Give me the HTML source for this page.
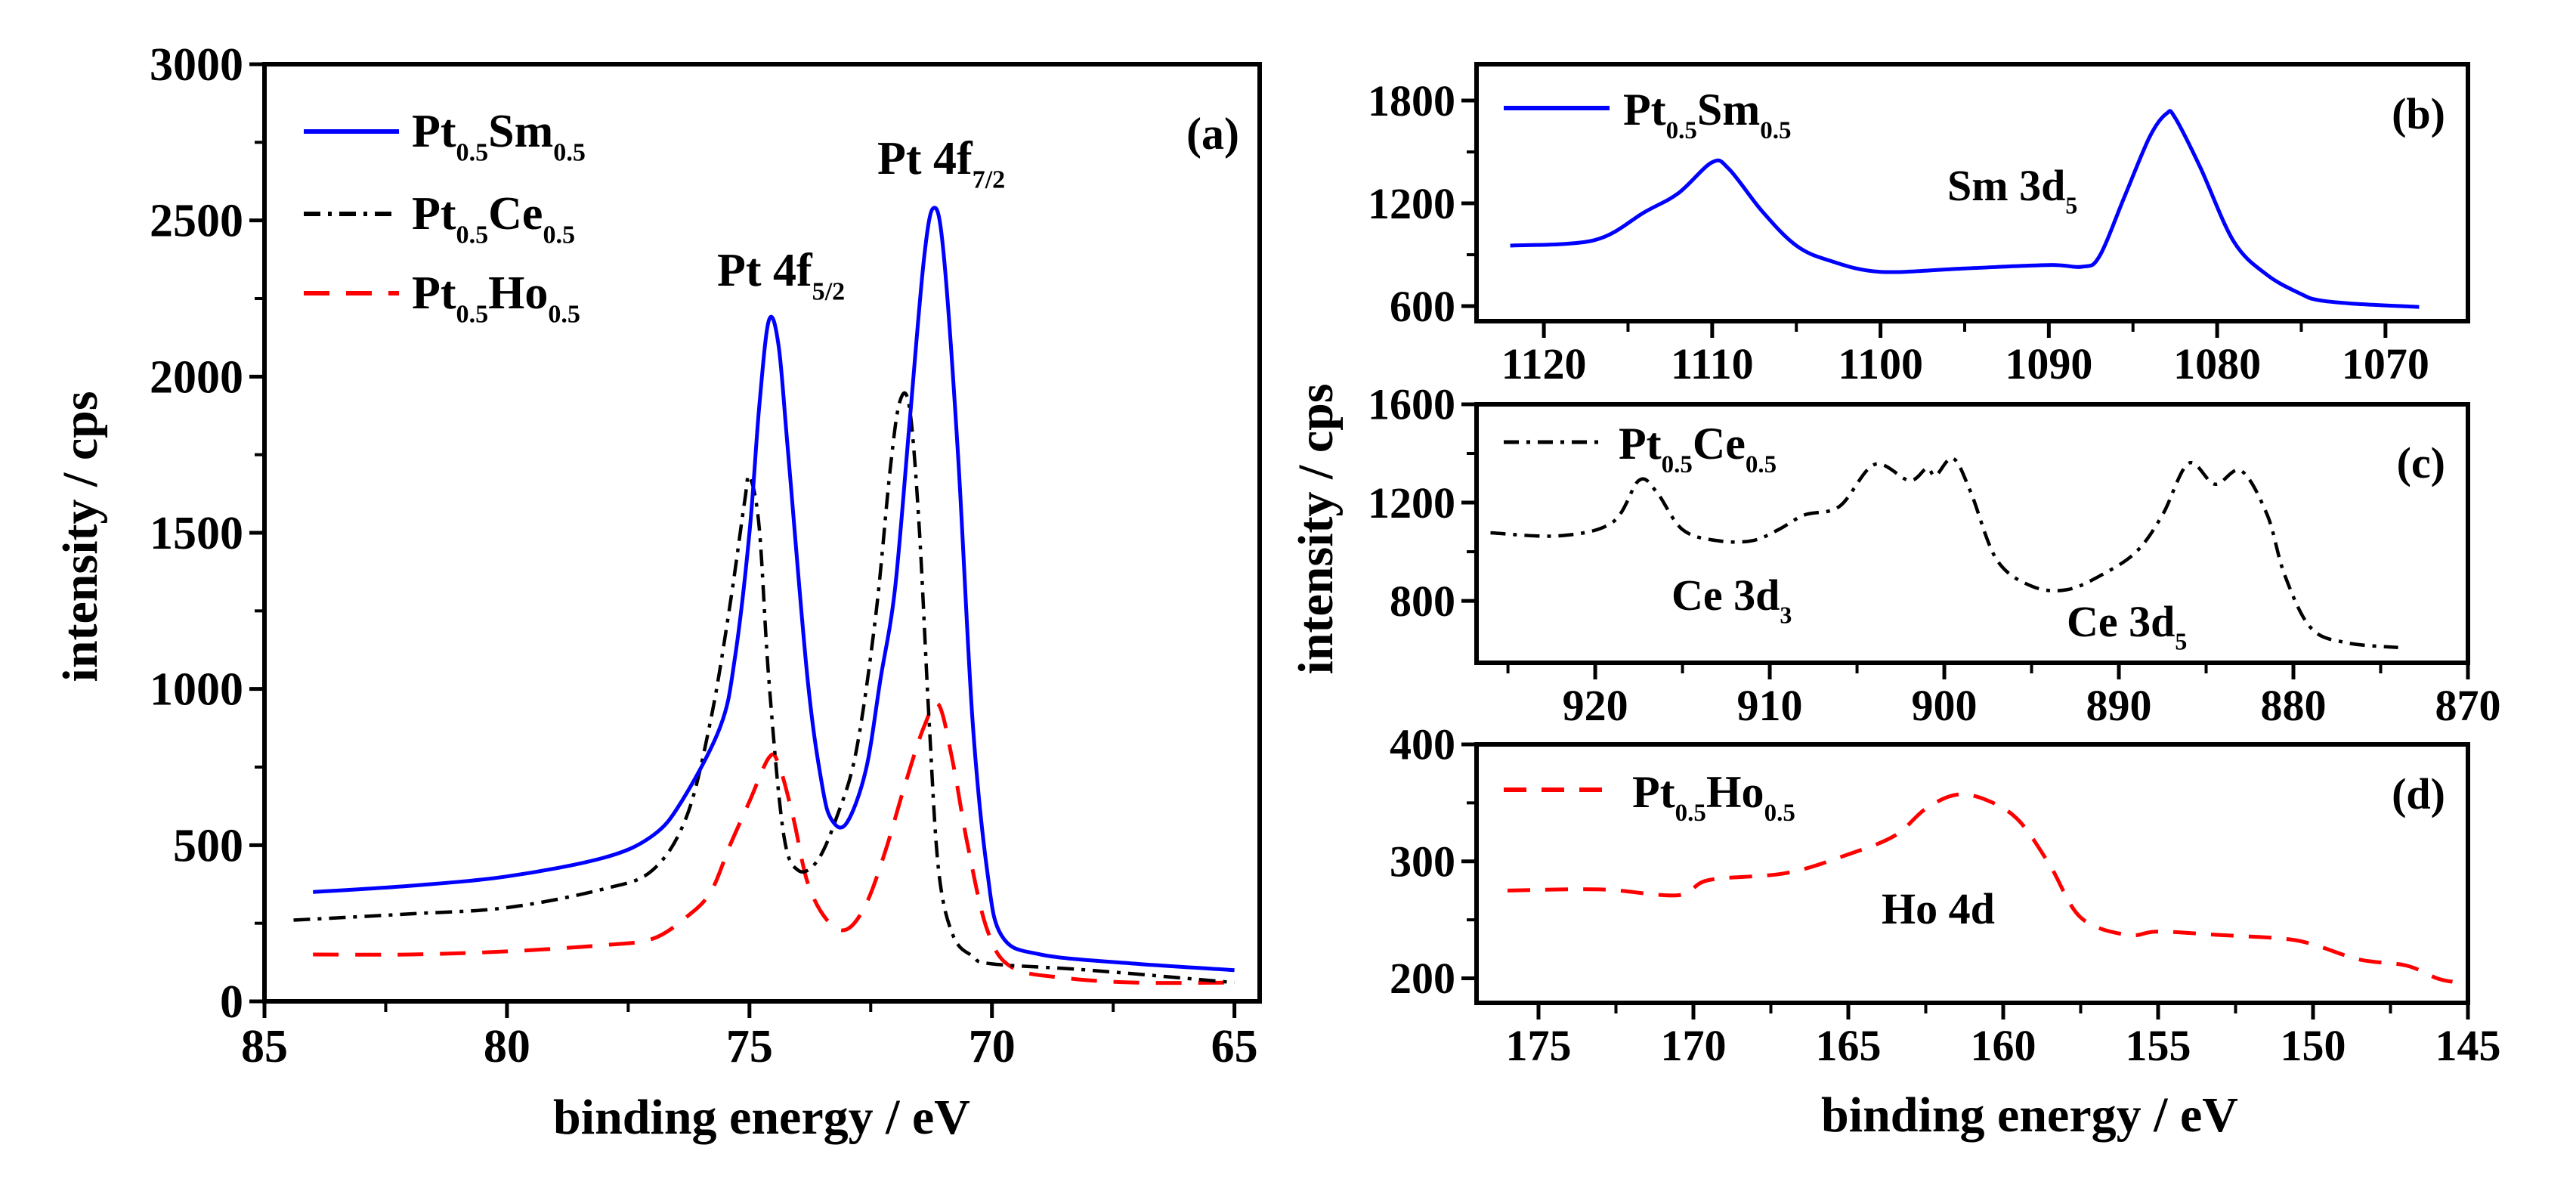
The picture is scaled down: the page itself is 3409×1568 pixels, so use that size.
<!DOCTYPE html>
<html><head><meta charset="utf-8"><style>
html,body{margin:0;padding:0;background:#fff;}
svg{display:block;font-family:"Liberation Serif",serif;font-weight:bold;}
</style></head><body>
<svg id="chart" width="3409" height="1568" viewBox="0 0 3409 1568" xmlns="http://www.w3.org/2000/svg"></svg>
<script>
// ---- Panel (a) data: Pt 4f ----
const aSmX=[84,82,80,78,77,76.4,75.6,75.3,75.0,74.8,74.6,74.4,74.2,73.8,73.5,73.3,73.0,72.6,72.3,72.0,71.7,71.4,71.2,71.0,70.7,70.4,70.1,69.8,69,67,65];
const aSmY=[350,370,400,460,530,640,880,1100,1500,1900,2180,2100,1750,1030,690,580,570,740,1030,1320,1850,2380,2540,2400,1750,900,420,210,150,120,100];
const aCeX=[84.4,82,80,78,77,76.3,75.8,75.4,75.1,75.0,74.8,74.6,74.3,74.0,73.6,73.2,72.8,72.4,72.1,71.9,71.7,71.5,71.3,71.1,70.8,70.4,70,68,65];
const aCeY=[260,280,300,360,420,590,900,1270,1600,1680,1520,1030,540,420,450,590,800,1230,1700,1920,1900,1520,910,420,210,145,120,100,60];
const aHoX=[84,82,80,78,77,76.3,75.8,75.4,75.0,74.6,74.4,74.1,73.8,73.4,73.0,72.6,72.2,71.8,71.4,71.1,70.8,70.5,70.1,69.6,68.5,67,65];
const aHoY=[150,150,160,180,200,270,350,500,640,780,760,590,380,260,230,310,480,690,880,950,760,500,230,110,75,60,60];
// ---- Panel (b): Sm 3d ----
const bX=[1122,1117,1114,1112,1110,1109,1107,1105,1103,1100,1095,1090,1088,1087,1085.5,1084,1083,1082.5,1081,1079,1077,1075,1074,1072,1068];
const bY=[953,985,1150,1260,1440,1400,1150,953,865,800,820,840,830,890,1240,1590,1725,1700,1410,975,780,670,635,615,595];
// ---- Panel (c): Ce 3d ----
const cX=[926,922,919,917.5,916.5,915,913,911,909.5,908,906,904,902,901,900.5,899.5,898.5,897,895,893,891,889,887.5,886,884.5,883,881.5,880.5,879,877,874];
const cY=[1077,1065,1120,1290,1245,1090,1045,1045,1090,1150,1185,1355,1290,1340,1310,1380,1245,968,860,845,905,1000,1150,1360,1275,1330,1150,905,690,630,610];
// ---- Panel (d): Ho 4d ----
const dX=[176,173,170.5,169.5,167,165,163.5,162.5,161.5,160.5,159.5,158.5,157.5,156,155,153,151,150,148.5,147,146,145.5];
const dY=[275,276,271,284,290,306,322,345,357,352,335,297,252,237,240,237,234,229,216,211,200,197];
// ---- Tick labels ----
const aXTicks=[85,80,75,70,65];
const aYTicks=[0,500,1000,1500,2000,2500,3000];
const bXTicks=[1120,1110,1100,1090,1080,1070];
const bYTicks=[600,1200,1800];
const cXTicks=[920,910,900,890,880,870];
const cYTicks=[800,1200,1600];
const dXTicks=[175,170,165,160,155,150,145];
const dYTicks=[200,300,400];

const NS="http://www.w3.org/2000/svg";
const svg=document.getElementById('chart');
function el(tag,attrs,parent){const e=document.createElementNS(NS,tag);for(const k in attrs)e.setAttribute(k,attrs[k]);(parent||svg).appendChild(e);return e;}
function lin(d0,d1,p0,p1){return v=>p0+(v-d0)*(p1-p0)/(d1-d0);}

function panel(name,box,xd,yd,xt,yt,xMinor,yMinor,fs){
  const g=el('g',{});
  
  
  const sx=lin(xd[0],xd[1],box.l,box.r), sy=lin(yd[0],yd[1],box.b,box.t);
  xt.forEach(v=>{const x=sx(v);
    const t=el('line',{x1:x,x2:x,y1:box.b,y2:box.b+22,stroke:'#000','stroke-width':5},g);
    
    const tx=el('text',{x:x,y:box.b+fs+18,'font-size':fs,'text-anchor':'middle'},g);tx.textContent=v;
    
  });
  xMinor.forEach(v=>{const x=sx(v);el('line',{x1:x,x2:x,y1:box.b,y2:box.b+14,stroke:'#000','stroke-width':4},g);});
  yt.forEach(v=>{const y=sy(v);
    const t=el('line',{x1:box.l-20,x2:box.l,y1:y,y2:y,stroke:'#000','stroke-width':5},g);
    
    const tx=el('text',{x:box.l-28,y:y+fs*0.34,'font-size':fs,'text-anchor':'end'},g);tx.textContent=v;
    
  });
  yMinor.forEach(v=>{const y=sy(v);el('line',{x1:box.l-13,x2:box.l,y1:y,y2:y,stroke:'#000','stroke-width':4},g);});
  const fr=el('rect',{x:box.l,y:box.t,width:box.r-box.l,height:box.b-box.t,fill:'none',stroke:'#000','stroke-width':6},g);
  
  return {g,sx,sy};
}
function series(p,xs,ys,color,dash,w,name){
  const P=xs.map((x,i)=>[p.sx(x),p.sy(ys[i])]);
  let d='M'+P[0][0].toFixed(1)+' '+P[0][1].toFixed(1);
  for(let i=0;i<P.length-1;i++){
    const p0=P[Math.max(0,i-1)],p1=P[i],p2=P[i+1],p3=P[Math.min(P.length-1,i+2)];
    const c1=[p1[0]+(p2[0]-p0[0])/6,p1[1]+(p2[1]-p0[1])/6];
    const c2=[p2[0]-(p3[0]-p1[0])/6,p2[1]-(p3[1]-p1[1])/6];
    d+=' C'+c1[0].toFixed(1)+' '+c1[1].toFixed(1)+' '+c2[0].toFixed(1)+' '+c2[1].toFixed(1)+' '+p2[0].toFixed(1)+' '+p2[1].toFixed(1);
  }
  const path=el('path',{d:d,fill:'none',stroke:color,'stroke-width':w,'stroke-dasharray':dash,'stroke-linejoin':'round'},p.g);
  
  
}
function sub(parent,x,y,fs,main,parts,name){
  const t=el('text',{x:x,y:y,'font-size':fs},parent);
  
  let prevSub=false;
  parts.forEach(([txt,isSub])=>{let dy=0;if(isSub&&!prevSub)dy=fs*0.3;else if(!isSub&&prevSub)dy=-fs*0.3;
    const s=el('tspan',{'font-size':isSub?fs*0.55:fs,dy:dy},t);s.textContent=txt;prevSub=isSub;});
  return t;
}

// Panel a
const pa=panel('panel-a',{l:350,r:1667,t:85,b:1325},[85,64.48],[0,3000],aXTicks,aYTicks,[82.5,77.5,72.5,67.5],[250,750,1250,1750,2250,2750],62);
series(pa,aHoX,aHoY,'#ff0000','34 22',5,'series-pt-ho');
series(pa,aCeX,aCeY,'#000','22 10 5 10',4.5,'series-pt-ce');
series(pa,aSmX,aSmY,'#0000ff','none',5,'series-pt-sm');
[['#0000ff','none',174,'Sm','legend-sm'],['#000','22 10 5 10',283,'Ce','legend-ce'],['#ff0000','34 22',388,'Ho','legend-ho']].forEach(([c,da,y,el2,nm])=>{
  const l=el('line',{x1:402,x2:528,y1:y,y2:y,stroke:c,'stroke-width':6,'stroke-dasharray':da},pa.g);
  
  sub(pa.g,545,y+20,62,'',[['Pt',0],['0.5',1],[el2,0],['0.5',1]],nm+'-label');
});
sub(pa.g,1161,230,62,'',[['Pt 4f',0],['7/2',1]],'peak-label-4f72');
sub(pa.g,949,378,62,'',[['Pt 4f',0],['5/2',1]],'peak-label-4f52');
let t=el('text',{x:1640,y:197,'font-size':60,'text-anchor':'end'},pa.g);t.textContent='(a)';

t=el('text',{x:0,y:0,'font-size':66,'text-anchor':'middle',transform:'translate(128,710) rotate(-90)'});t.textContent='intensity / cps';

t=el('text',{x:1008,y:1500,'font-size':66,'text-anchor':'middle'});t.textContent='binding energy / eV';


// Panel b
const pb=panel('panel-b',{l:1954,r:3266,t:85,b:425},[1124,1065.1],[512,2012],bXTicks,bYTicks,[1115,1105,1095,1085,1075],[900,1500],58);
series(pb,bX,bY,'#0000ff','none',5,'series-sm-3d');
let l=el('line',{x1:1990,x2:2130,y1:143,y2:143,stroke:'#0000ff','stroke-width':6},pb.g);

sub(pb.g,2148,165,60,'',[['Pt',0],['0.5',1],['Sm',0],['0.5',1]],'legend-sm-label');
sub(pb.g,2577,265,58,'',[['Sm 3d',0],['5',1]],'peak-label-sm3d5');
t=el('text',{x:3236,y:170,'font-size':58,'text-anchor':'end'},pb.g);t.textContent='(b)';


// Panel c
const pc=panel('panel-c',{l:1954,r:3266,t:535,b:877},[926.8,870],[548,1600],cXTicks,cYTicks,[925,915,905,895,885,875],[1000,1400],58);
series(pc,cX,cY,'#000','20 10 5 10',4.5,'series-ce-3d');
l=el('line',{x1:1990,x2:2120,y1:585,y2:585,stroke:'#000','stroke-width':5,'stroke-dasharray':'20 10 5 10'},pc.g);

sub(pc.g,2142,607,60,'',[['Pt',0],['0.5',1],['Ce',0],['0.5',1]],'legend-ce-label');
sub(pc.g,2212,807,58,'',[['Ce 3d',0],['3',1]],'peak-label-ce3d3');
sub(pc.g,2735,842,58,'',[['Ce 3d',0],['5',1]],'peak-label-ce3d5');
t=el('text',{x:3236,y:632,'font-size':58,'text-anchor':'end'},pc.g);t.textContent='(c)';


// Panel d
const pd=panel('panel-d',{l:1954,r:3266,t:985,b:1327},[177,145],[179,400],dXTicks,dYTicks,[172.5,167.5,162.5,157.5,152.5,147.5],[250,350],58);
series(pd,dX,dY,'#ff0000','30 20',5,'series-ho-4d');
l=el('line',{x1:1990,x2:2135,y1:1045,y2:1045,stroke:'#ff0000','stroke-width':6,'stroke-dasharray':'30 20'},pd.g);

sub(pd.g,2160,1068,60,'',[['Pt',0],['0.5',1],['Ho',0],['0.5',1]],'legend-ho-label');
sub(pd.g,2490,1222,58,'',[['Ho 4d',0]],'peak-label-ho4d');
t=el('text',{x:3236,y:1070,'font-size':58,'text-anchor':'end'},pd.g);t.textContent='(d)';


t=el('text',{x:0,y:0,'font-size':66,'text-anchor':'middle',transform:'translate(1763,700) rotate(-90)'});t.textContent='intensity / cps';

t=el('text',{x:2686,y:1497,'font-size':66,'text-anchor':'middle'});t.textContent='binding energy / eV';

</script>
</body></html>
